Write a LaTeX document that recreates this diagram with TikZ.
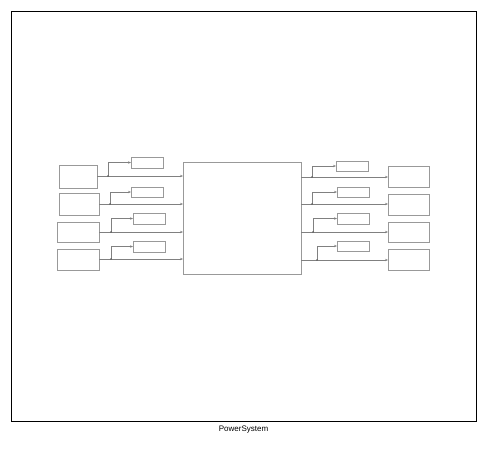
\documentclass[tikz,border=0pt]{standalone}
\usepackage{fontspec}
\setmainfont{Liberation Sans}
\usetikzlibrary{arrows.meta}
\begin{document}
\begin{tikzpicture}[x=1pt,y=-1pt,
  blk/.style={draw=black!40, line width=0.6pt, inner sep=0pt, outer sep=0pt, anchor=north west},
  wire/.style={draw=black!50, line width=0.6pt, -{Stealth[length=3pt,width=2.4pt]}},
  dot/.style={circle, fill=black!65, inner sep=0pt, minimum size=1.8pt}]
\useasboundingbox (0,0) rectangle (487,448);
\node[draw=black, line width=0.9pt, inner sep=0pt, outer sep=0pt, anchor=north west, minimum width=465pt, minimum height=410pt] (frame) at (11,11) {};
\node[font=\fontsize{8}{9}\selectfont] (cap) at (243.5,430) {PowerSystem};
% center block
\node[blk, minimum width=118pt, minimum height=112pt] (C) at (183,162) {};
% left blocks
\node[blk, minimum width=38pt, minimum height=23pt] (L1) at (59,165) {};
\node[blk, minimum width=40pt, minimum height=22pt] (L2) at (59,193) {};
\node[blk, minimum width=42pt, minimum height=20pt] (L3) at (57,222) {};
\node[blk, minimum width=42pt, minimum height=21pt] (L4) at (57,249) {};
% left small boxes
\node[blk, minimum width=32pt, minimum height=11pt] (A1) at (131,157) {};
\node[blk, minimum width=32pt, minimum height=10pt] (A2) at (131,187) {};
\node[blk, minimum width=32pt, minimum height=11pt] (A3) at (133,213) {};
\node[blk, minimum width=32pt, minimum height=11pt] (A4) at (133,241) {};
% right blocks
\node[blk, minimum width=41pt, minimum height=21pt] (R1) at (388,166) {};
\node[blk, minimum width=41pt, minimum height=21pt] (R2) at (388,194) {};
\node[blk, minimum width=41pt, minimum height=20pt] (R3) at (388,222) {};
\node[blk, minimum width=41pt, minimum height=21pt] (R4) at (388,249) {};
% right small boxes
\node[blk, minimum width=32pt, minimum height=10pt] (B1) at (336,161) {};
\node[blk, minimum width=32pt, minimum height=10pt] (B2) at (337,187) {};
\node[blk, minimum width=32pt, minimum height=11pt] (B3) at (337,213) {};
\node[blk, minimum width=32pt, minimum height=10pt] (B4) at (337,241) {};
% junctions
\coordinate (J1) at (108,176);
\coordinate (J2) at (110,204);
\coordinate (J3) at (111,232);
\coordinate (J4) at (111,259);
\coordinate (K1) at (312,177);
\coordinate (K2) at (312,204);
\coordinate (K3) at (313,232);
\coordinate (K4) at (317,260);
% wires
\foreach \i in {1,2,3,4} {
  \draw[wire] (L\i.east |- J\i) -- (C.west |- J\i);
  \draw[wire] (J\i) |- (A\i.west);
  \node[dot] at (J\i) {};
  \draw[wire] (C.east |- K\i) -- (R\i.west |- K\i);
  \draw[wire] (K\i) |- (B\i.west);
  \node[dot] at (K\i) {};
}
\end{tikzpicture}
\end{document}
